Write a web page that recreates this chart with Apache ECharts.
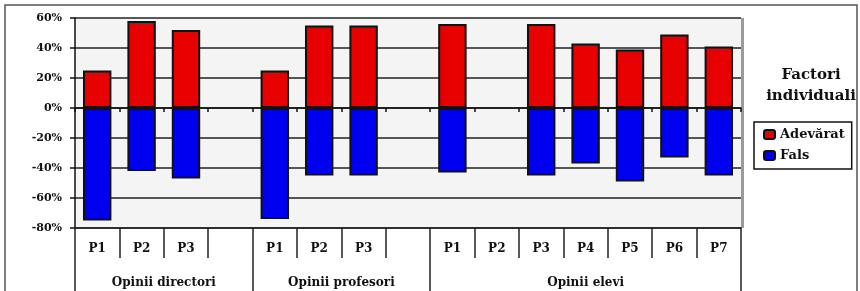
<!DOCTYPE html>
<html>
<head>
<meta charset="utf-8">
<script src="https://cdn.jsdelivr.net/npm/echarts@6/dist/echarts.min.js"></script>
<style>
  html, body { margin: 0; padding: 0; background: #fff; }
  #chart { width: 860px; height: 291px; }
</style>
</head>
<body>
<div id="chart"></div>
<script>
// categories: 3 groups, an empty slot after the first two
const categories = ["P1", "P2", "P3", "", "P1", "P2", "P3", "", "P1", "P2", "P3", "P4", "P5", "P6", "P7"];
const groups = ["Opinii directori", "Opinii profesori", "Opinii elevi"];
const groupSpans = [4, 4, 7];

// values in percent
const adevarat = [25, 58, 52, null, 25, 55, 55, null, 56, null, 56, 43, 39, 49, 41];
const fals = [-75, -42, -47, null, -74, -45, -45, null, -43, null, -45, -37, -49, -33, -45];

const seriesNames = ["Adevărat", "Fals"];
const legendTitle = "Factori\nindividuali";

const fontFam = "DejaVu Serif";

// half-step axis used only for the group labels and long separators
let groupLabels = [];
let groupTicks = [0];
let pos = 0;
for (let i = 0; i < groups.length; i++) {
  pos += groupSpans[i] * 2;
  groupTicks.push(pos);
}
for (let i = 0; i <= pos; i++) groupLabels.push("");
let start = 0;
for (let i = 0; i < groups.length; i++) {
  groupLabels[start + groupSpans[i]] = groups[i];
  start += groupSpans[i] * 2;
}

const chart = echarts.init(document.getElementById("chart"));
chart.setOption({
  animation: false,
  backgroundColor: "#fff",
  title: {
    text: legendTitle,
    left: 806,
    top: 60,
    textAlign: "center",
    textStyle: { fontFamily: fontFam, fontWeight: "bold", fontSize: 15, lineHeight: 21, color: "#111" }
  },
  legend: {
    orient: "vertical",
    left: 754,
    top: 122,
    padding: [6, 7, 7, 9],
    itemGap: 8,
    itemWidth: 11,
    itemHeight: 9,
    borderColor: "#111",
    borderWidth: 1.5,
    textStyle: { fontFamily: fontFam, fontWeight: "bold", fontSize: 13, color: "#111" },
    data: seriesNames
  },
  graphic: [{
    type: "rect",
    z: -1,
    shape: { x: 5, y: 5, width: 852, height: 320 },
    style: { fill: null, stroke: "#555", lineWidth: 1.5 }
  }],
  grid: {
    left: 75,
    right: 119,
    top: 18,
    bottom: 63,
    show: true,
    backgroundColor: "#f4f4f4",
    borderWidth: 0,
    shadowColor: "#9a9a9a",
    shadowOffsetX: 3,
    shadowOffsetY: 0,
    shadowBlur: 0
  },
  xAxis: [
    {
      // axis through 0%
      type: "category",
      data: categories,
      axisLine: { onZero: true, lineStyle: { color: "#111", width: 1.5 } },
      axisTick: { show: true, length: 4, lineStyle: { color: "#111", width: 1.5 } },
      axisLabel: { show: false },
      splitLine: { show: false }
    },
    {
      type: "category",
      data: categories,
      position: "bottom",
      axisLine: { onZero: false, lineStyle: { color: "#222", width: 1.5 } },
      axisTick: { show: true, length: 30, interval: 0, lineStyle: { color: "#222", width: 1.5 } },
      axisLabel: { interval: 0, margin: 15, fontFamily: fontFam, fontWeight: "bold", fontSize: 12, color: "#111" },
      splitLine: { show: false }
    },
    {
      type: "category",
      data: groupLabels,
      boundaryGap: false,
      position: "bottom",
      axisLine: { show: false, onZero: false },
      axisTick: {
        show: true,
        length: 70,
        interval: (idx) => groupTicks.includes(idx),
        lineStyle: { color: "#222", width: 1.5 }
      },
      axisLabel: { interval: 0, margin: 49, fontFamily: fontFam, fontWeight: "bold", fontSize: 12, color: "#111" },
      splitLine: { show: false }
    }
  ],
  yAxis: {
    type: "value",
    min: -80,
    max: 60,
    interval: 20,
    axisLine: { show: true, lineStyle: { color: "#111", width: 1.5 } },
    axisTick: { show: true, length: 5, lineStyle: { color: "#111", width: 1.5 } },
    axisLabel: {
      formatter: "{value}%",
      margin: 13,
      fontFamily: fontFam,
      fontWeight: "bold",
      fontSize: 11,
      color: "#111"
    },
    splitLine: { show: true, lineStyle: { color: "#222", width: 1.5 } }
  },
  series: [
    {
      name: seriesNames[0],
      type: "bar",
      stack: "total",
      xAxisIndex: 0,
      barWidth: "64%",
      data: adevarat,
      itemStyle: { color: "#e60000", borderColor: "#111", borderWidth: 2 }
    },
    {
      name: seriesNames[1],
      type: "bar",
      stack: "total",
      xAxisIndex: 0,
      barWidth: "64%",
      data: fals,
      itemStyle: { color: "#0000f0", borderColor: "#111", borderWidth: 2 }
    }
  ]
});
</script>
</body>
</html>
